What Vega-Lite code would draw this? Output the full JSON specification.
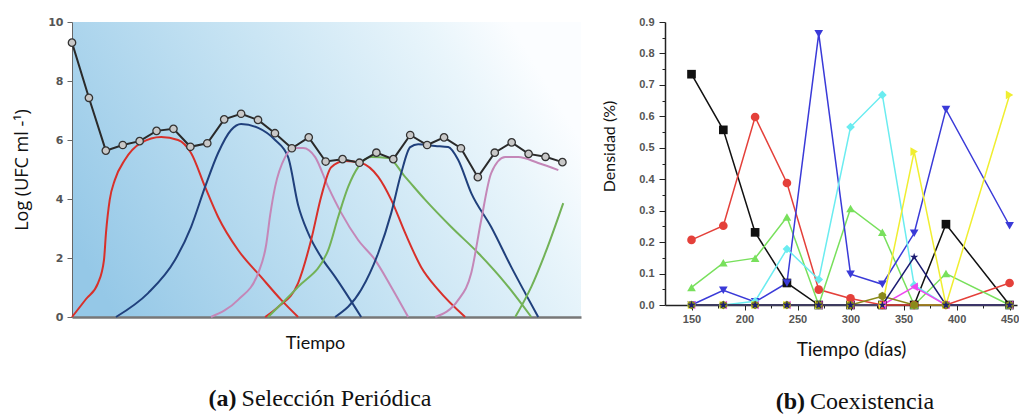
{
  "$schema": "https://vega.github.io/schema/vega-lite/v6.json",
  "padding": {"left": 13, "top": 16, "right": 0, "bottom": 0},
  "background": "white",
  "spacing": 20,
  "resolve": {"scale": {"color": "independent", "shape": "independent"}},
  "config": {"view": {"stroke": null}, "axis": {"grid": false}},
  "datasets": {
    "a_curves": [
      {"s": "r1", "t": 0, "v": 0}, {"s": "r1", "t": 0.83, "v": 0.61}, {"s": "r1", "t": 1.54, "v": 1.15}, {"s": "r1", "t": 1.89, "v": 1.93}, {"s": "r1", "t": 2.01, "v": 2.85}, {"s": "r1", "t": 2.23, "v": 3.97}, {"s": "r1", "t": 2.53, "v": 4.64}, {"s": "r1", "t": 3.12, "v": 5.32}, {"s": "r1", "t": 4.08, "v": 5.9}, {"s": "r1", "t": 5.27, "v": 6.1}, {"s": "r1", "t": 6.27, "v": 6.0}, {"s": "r1", "t": 7.04, "v": 5.56}, {"s": "r1", "t": 7.87, "v": 4.41}, {"s": "r1", "t": 8.64, "v": 3.39}, {"s": "r1", "t": 9.82, "v": 2.27}, {"s": "r1", "t": 11.18, "v": 1.36}, {"s": "r1", "t": 12.37, "v": 0.58}, {"s": "r1", "t": 13.37, "v": 0},
      {"s": "b1", "t": 2.6, "v": 0}, {"s": "b1", "t": 4.5, "v": 0.81}, {"s": "b1", "t": 6.09, "v": 1.93}, {"s": "b1", "t": 7.04, "v": 3.05}, {"s": "b1", "t": 7.87, "v": 4.41}, {"s": "b1", "t": 8.64, "v": 5.56}, {"s": "b1", "t": 9.41, "v": 6.34}, {"s": "b1", "t": 10.0, "v": 6.54}, {"s": "b1", "t": 11.01, "v": 6.41}, {"s": "b1", "t": 12.01, "v": 6.0}, {"s": "b1", "t": 12.78, "v": 5.42}, {"s": "b1", "t": 13.37, "v": 3.8}, {"s": "b1", "t": 13.96, "v": 2.85}, {"s": "b1", "t": 14.73, "v": 2.03}, {"s": "b1", "t": 15.56, "v": 1.36}, {"s": "b1", "t": 17.1, "v": 0},
      {"s": "p1", "t": 8.22, "v": 0}, {"s": "p1", "t": 9.82, "v": 0.58}, {"s": "p1", "t": 11.01, "v": 1.49}, {"s": "p1", "t": 11.48, "v": 2.44}, {"s": "p1", "t": 11.72, "v": 3.46}, {"s": "p1", "t": 12.01, "v": 4.41}, {"s": "p1", "t": 12.6, "v": 5.42}, {"s": "p1", "t": 13.14, "v": 5.73}, {"s": "p1", "t": 13.67, "v": 5.73}, {"s": "p1", "t": 14.38, "v": 5.42}, {"s": "p1", "t": 15.15, "v": 4.41}, {"s": "p1", "t": 15.92, "v": 3.53}, {"s": "p1", "t": 16.92, "v": 2.61}, {"s": "p1", "t": 17.93, "v": 1.93}, {"s": "p1", "t": 18.88, "v": 1.02}, {"s": "p1", "t": 19.88, "v": 0},
      {"s": "r2", "t": 11.42, "v": 0}, {"s": "r2", "t": 12.19, "v": 0.34}, {"s": "r2", "t": 13.37, "v": 1.15}, {"s": "r2", "t": 14.14, "v": 2.61}, {"s": "r2", "t": 14.73, "v": 4.07}, {"s": "r2", "t": 15.33, "v": 5.08}, {"s": "r2", "t": 16.15, "v": 5.29}, {"s": "r2", "t": 17.1, "v": 5.22}, {"s": "r2", "t": 18.11, "v": 4.75}, {"s": "r2", "t": 18.88, "v": 3.97}, {"s": "r2", "t": 19.7, "v": 2.85}, {"s": "r2", "t": 20.65, "v": 1.69}, {"s": "r2", "t": 21.66, "v": 0.92}, {"s": "r2", "t": 23.25, "v": 0},
      {"s": "g1", "t": 11.6, "v": 0}, {"s": "g1", "t": 12.19, "v": 0.34}, {"s": "g1", "t": 13.37, "v": 1.02}, {"s": "g1", "t": 15.15, "v": 2.27}, {"s": "g1", "t": 15.74, "v": 3.39}, {"s": "g1", "t": 16.33, "v": 4.41}, {"s": "g1", "t": 16.92, "v": 5.08}, {"s": "g1", "t": 17.69, "v": 5.42}, {"s": "g1", "t": 18.7, "v": 5.39}, {"s": "g1", "t": 19.7, "v": 4.75}, {"s": "g1", "t": 20.89, "v": 3.97}, {"s": "g1", "t": 22.43, "v": 3.05}, {"s": "g1", "t": 24.02, "v": 2.17}, {"s": "g1", "t": 25.62, "v": 1.15}, {"s": "g1", "t": 27.16, "v": 0},
      {"s": "b2", "t": 15.56, "v": 0}, {"s": "b2", "t": 17.1, "v": 0.92}, {"s": "b2", "t": 18.11, "v": 2.17}, {"s": "b2", "t": 18.88, "v": 3.53}, {"s": "b2", "t": 19.47, "v": 4.88}, {"s": "b2", "t": 20.0, "v": 5.76}, {"s": "b2", "t": 20.47, "v": 5.86}, {"s": "b2", "t": 21.48, "v": 5.8}, {"s": "b2", "t": 22.25, "v": 5.76}, {"s": "b2", "t": 22.84, "v": 5.32}, {"s": "b2", "t": 23.61, "v": 4.2}, {"s": "b2", "t": 24.79, "v": 3.05}, {"s": "b2", "t": 25.98, "v": 1.69}, {"s": "b2", "t": 26.8, "v": 0.81}, {"s": "b2", "t": 27.57, "v": 0},
      {"s": "p2", "t": 21.48, "v": 0}, {"s": "p2", "t": 22.84, "v": 0.58}, {"s": "p2", "t": 23.61, "v": 1.49}, {"s": "p2", "t": 24.2, "v": 3.29}, {"s": "p2", "t": 24.79, "v": 4.88}, {"s": "p2", "t": 25.62, "v": 5.42}, {"s": "p2", "t": 26.39, "v": 5.42}, {"s": "p2", "t": 27.57, "v": 5.22}, {"s": "p2", "t": 28.76, "v": 4.98},
      {"s": "g2", "t": 26.21, "v": 0}, {"s": "g2", "t": 27.16, "v": 1.02}, {"s": "g2", "t": 27.99, "v": 2.17}, {"s": "g2", "t": 29.05, "v": 3.86}
    ],
    "a_total": [
      {"t": 0, "v": 9.3}, {"t": 1, "v": 7.43}, {"t": 2, "v": 5.64}, {"t": 3, "v": 5.83}, {"t": 4, "v": 5.96}, {"t": 5, "v": 6.31}, {"t": 6, "v": 6.38}, {"t": 7, "v": 5.77}, {"t": 8, "v": 5.89}, {"t": 9, "v": 6.7},
      {"t": 10, "v": 6.89}, {"t": 11, "v": 6.68}, {"t": 12, "v": 6.23}, {"t": 13, "v": 5.72}, {"t": 14, "v": 6.09}, {"t": 15, "v": 5.27}, {"t": 16, "v": 5.35}, {"t": 17, "v": 5.23}, {"t": 18, "v": 5.57}, {"t": 19, "v": 5.35},
      {"t": 20, "v": 6.17}, {"t": 21, "v": 5.83}, {"t": 22, "v": 6.09}, {"t": 23, "v": 5.72}, {"t": 24, "v": 4.74}, {"t": 25, "v": 5.57}, {"t": 26, "v": 5.92}, {"t": 27, "v": 5.53}, {"t": 28, "v": 5.43}, {"t": 29, "v": 5.25}
    ],
    "b": [
      {"s": "1", "x": 150, "v": 0.734}, {"s": "1", "x": 180, "v": 0.557}, {"s": "1", "x": 210, "v": 0.231}, {"s": "1", "x": 240, "v": 0.07}, {"s": "1", "x": 270, "v": 0}, {"s": "1", "x": 300, "v": 0}, {"s": "1", "x": 330, "v": 0}, {"s": "1", "x": 360, "v": 0}, {"s": "1", "x": 390, "v": 0.257}, {"s": "1", "x": 450, "v": 0},
      {"s": "2", "x": 150, "v": 0.207}, {"s": "2", "x": 180, "v": 0.252}, {"s": "2", "x": 210, "v": 0.598}, {"s": "2", "x": 240, "v": 0.388}, {"s": "2", "x": 270, "v": 0.049}, {"s": "2", "x": 300, "v": 0.021}, {"s": "2", "x": 330, "v": 0}, {"s": "2", "x": 360, "v": 0}, {"s": "2", "x": 390, "v": 0}, {"s": "2", "x": 450, "v": 0.07},
      {"s": "3", "x": 150, "v": 0.056}, {"s": "3", "x": 180, "v": 0.134}, {"s": "3", "x": 210, "v": 0.149}, {"s": "3", "x": 240, "v": 0.28}, {"s": "3", "x": 270, "v": 0}, {"s": "3", "x": 300, "v": 0.307}, {"s": "3", "x": 330, "v": 0.231}, {"s": "3", "x": 360, "v": 0}, {"s": "3", "x": 390, "v": 0.1}, {"s": "3", "x": 450, "v": 0},
      {"s": "4", "x": 150, "v": 0}, {"s": "4", "x": 180, "v": 0.047}, {"s": "4", "x": 210, "v": 0.01}, {"s": "4", "x": 240, "v": 0.07}, {"s": "4", "x": 270, "v": 0.863}, {"s": "4", "x": 300, "v": 0.098}, {"s": "4", "x": 330, "v": 0.066}, {"s": "4", "x": 360, "v": 0.228}, {"s": "4", "x": 390, "v": 0.622}, {"s": "4", "x": 450, "v": 0.252},
      {"s": "5", "x": 150, "v": 0}, {"s": "5", "x": 180, "v": 0}, {"s": "5", "x": 210, "v": 0.012}, {"s": "5", "x": 240, "v": 0.178}, {"s": "5", "x": 270, "v": 0.081}, {"s": "5", "x": 300, "v": 0.566}, {"s": "5", "x": 330, "v": 0.668}, {"s": "5", "x": 360, "v": 0.063}, {"s": "5", "x": 390, "v": 0}, {"s": "5", "x": 450, "v": 0},
      {"s": "6", "x": 150, "v": 0}, {"s": "6", "x": 180, "v": 0}, {"s": "6", "x": 210, "v": 0}, {"s": "6", "x": 240, "v": 0}, {"s": "6", "x": 270, "v": 0}, {"s": "6", "x": 300, "v": 0}, {"s": "6", "x": 330, "v": 0}, {"s": "6", "x": 360, "v": 0.058}, {"s": "6", "x": 390, "v": 0}, {"s": "6", "x": 450, "v": 0},
      {"s": "7", "x": 150, "v": 0}, {"s": "7", "x": 180, "v": 0}, {"s": "7", "x": 210, "v": 0}, {"s": "7", "x": 240, "v": 0}, {"s": "7", "x": 270, "v": 0}, {"s": "7", "x": 300, "v": 0}, {"s": "7", "x": 330, "v": 0}, {"s": "7", "x": 360, "v": 0.488}, {"s": "7", "x": 390, "v": 0}, {"s": "7", "x": 450, "v": 0.668},
      {"s": "8", "x": 150, "v": 0}, {"s": "8", "x": 180, "v": 0}, {"s": "8", "x": 210, "v": 0}, {"s": "8", "x": 240, "v": 0}, {"s": "8", "x": 270, "v": 0}, {"s": "8", "x": 300, "v": 0}, {"s": "8", "x": 330, "v": 0.028}, {"s": "8", "x": 360, "v": 0}, {"s": "8", "x": 390, "v": 0}, {"s": "8", "x": 450, "v": 0},
      {"s": "9", "x": 150, "v": 0}, {"s": "9", "x": 180, "v": 0}, {"s": "9", "x": 210, "v": 0}, {"s": "9", "x": 240, "v": 0}, {"s": "9", "x": 270, "v": 0}, {"s": "9", "x": 300, "v": 0}, {"s": "9", "x": 330, "v": 0}, {"s": "9", "x": 360, "v": 0.152}, {"s": "9", "x": 390, "v": 0}, {"s": "9", "x": 450, "v": 0}
    ]
  },
  "hconcat": [
    {
      "width": 509,
      "height": 295,
      "view": {
        "stroke": null,
        "fill": {"gradient": "linear", "x1": 0, "y1": 0.75, "x2": 1, "y2": 0.4,
          "stops": [{"offset": 0, "color": "#95c8e7"}, {"offset": 0.5, "color": "#c6e3f3"}, {"offset": 0.85, "color": "#e9f5fb"}, {"offset": 1, "color": "#fbfdff"}]}
      },
      "layer": [
        {
          "data": {"name": "a_curves"},
          "mark": {"type": "line", "interpolate": "monotone", "strokeWidth": 2},
          "encoding": {
            "x": {"field": "t", "type": "quantitative", "scale": {"domain": [0, 30.1], "nice": false, "zero": false},
              "axis": {"labels": false, "ticks": false, "title": "Tiempo", "titleX": 243, "domainColor": "#777", "domainWidth": 2.5, "titleFont": "Lato", "titleFontSize": 18, "titleFontWeight": "normal", "titleColor": "#111", "titlePadding": 17}},
            "y": {"field": "v", "type": "quantitative", "scale": {"domain": [0, 10], "nice": false},
              "axis": {"values": [0, 2, 4, 6, 8, 10], "title": "Log (UFC ml -¹)", "labelFont": "DejaVu Sans", "labelFontSize": 11, "labelFontWeight": "bold", "labelColor": "#555", "tickColor": "#666", "tickSize": 5, "labelPadding": 4, "domainColor": "#666", "titleFont": "Open Sans", "titleFontSize": 18, "titleFontWeight": "normal", "titleColor": "#111", "titlePadding": 16}},
            "color": {"field": "s", "type": "nominal", "legend": null,
              "scale": {"domain": ["r1", "b1", "p1", "r2", "g1", "b2", "p2", "g2"], "range": ["#d8302a", "#20407c", "#c487b8", "#d8302a", "#72b257", "#20407c", "#c487b8", "#72b257"]}}
          }
        },
        {
          "data": {"name": "a_total"},
          "mark": {"type": "line", "color": "#2a2a2a", "strokeWidth": 2},
          "encoding": {
            "x": {"field": "t", "type": "quantitative"},
            "y": {"field": "v", "type": "quantitative"}
          }
        },
        {
          "data": {"name": "a_total"},
          "mark": {"type": "point", "filled": true, "fill": "#c8c8c8", "stroke": "#333", "strokeWidth": 1.3, "size": 55, "opacity": 1},
          "encoding": {
            "x": {"field": "t", "type": "quantitative"},
            "y": {"field": "v", "type": "quantitative"}
          }
        },
        {
          "data": {"values": [{}]},
          "mark": {"type": "text", "text": "(a)", "font": "Liberation Serif", "fontSize": 24, "fontWeight": "bold", "align": "right", "baseline": "middle", "dx": -2, "color": "#111"},
          "encoding": {
            "x": {"datum": 9.85, "type": "quantitative"},
            "y": {"datum": -2.78, "type": "quantitative"}
          }
        },
        {
          "data": {"values": [{}]},
          "mark": {"type": "text", "text": "Selección Periódica", "font": "Liberation Serif", "fontSize": 24, "align": "left", "baseline": "middle", "dx": 3, "color": "#111"},
          "encoding": {
            "x": {"datum": 9.85, "type": "quantitative"},
            "y": {"datum": -2.78, "type": "quantitative"}
          }
        }
      ]
    },
    {
      "width": 352,
      "height": 283,
      "view": {"stroke": null, "fill": null},
      "data": {"name": "b"},
      "resolve": {"axis": {"x": "independent", "y": "independent"}},
      "layer": [
        {
          "mark": {"type": "line", "strokeWidth": 1.5},
          "encoding": {
            "x": {"field": "x", "type": "quantitative", "scale": {"domain": [125, 457], "nice": false, "zero": false},
              "axis": {"values": [150, 200, 250, 300, 350, 400, 450], "title": "Tiempo (días)", "titleX": 186, "labelFont": "Liberation Sans", "labelFontSize": 11, "labelFontWeight": "bold", "labelColor": "#555", "tickColor": "#222", "tickSize": 5, "labelPadding": 3, "domainColor": "#222", "domainWidth": 1.5, "titleFont": "Lato", "titleFontSize": 19, "titleFontWeight": "normal", "titleColor": "#111", "titlePadding": 16}},
            "y": {"field": "v", "type": "quantitative", "scale": {"domain": [0, 0.9], "nice": false},
              "axis": {"values": [0, 0.1, 0.2, 0.3, 0.4, 0.5, 0.6, 0.7, 0.8, 0.9], "format": ".1f", "title": "Densidad (%)", "titleY": 124, "labelFont": "Liberation Sans", "labelFontSize": 11, "labelFontWeight": "bold", "labelColor": "#555", "tickColor": "#222", "tickSize": 6, "labelPadding": 5, "domainColor": "#222", "domainWidth": 1.5, "titleFont": "Lato", "titleFontSize": 16, "titleFontWeight": "normal", "titleColor": "#111", "titlePadding": 21}},
            "color": {"field": "s", "type": "nominal", "legend": null,
              "scale": {"domain": ["1", "2", "3", "4", "5", "6", "7", "8", "9"], "range": ["#111111", "#e4403a", "#78e05c", "#3a3ad8", "#6aecf0", "#ee48ee", "#f0ee30", "#8a8a1a", "#1c1c72"]}}
          }
        },
        {
          "mark": {"type": "point", "filled": true, "size": 75, "opacity": 1},
          "encoding": {
            "x": {"field": "x", "type": "quantitative", "axis": null},
            "y": {"field": "v", "type": "quantitative", "axis": null},
            "color": {"field": "s", "type": "nominal", "legend": null},
            "shape": {"field": "s", "type": "nominal", "legend": null,
              "scale": {"domain": ["1", "2", "3", "4", "5", "6", "7", "8", "9"], "range": ["square", "circle", "triangle-up", "triangle-down", "diamond", "triangle-left", "triangle-right", "M0,-1L0.87,-0.5L0.87,0.5L0,1L-0.87,0.5L-0.87,-0.5Z", "M0,-1L0.22,-0.31L0.95,-0.31L0.36,0.12L0.59,0.81L0,0.38L-0.59,0.81L-0.36,0.12L-0.95,-0.31L-0.22,-0.31Z"]}}
          }
        },
        {
          "mark": {"type": "point", "opacity": 0},
          "encoding": {
            "x": {"field": "x", "type": "quantitative",
              "axis": {"orient": "bottom", "values": [175, 225, 275, 325, 375, 425], "labels": false, "domain": false, "title": null, "tickColor": "#222", "tickSize": 3}},
            "y": {"field": "v", "type": "quantitative",
              "axis": {"orient": "left", "values": [0.05, 0.15, 0.25, 0.35, 0.45, 0.55, 0.65, 0.75, 0.85], "labels": false, "domain": false, "title": null, "tickColor": "#222", "tickSize": 3}}
          }
        },
        {
          "data": {"values": [{}]},
          "mark": {"type": "text", "text": "(b)", "font": "Liberation Serif", "fontSize": 24, "fontWeight": "bold", "align": "right", "baseline": "middle", "dx": -2, "color": "#111"},
          "encoding": {
            "x": {"datum": 259, "type": "quantitative", "axis": null},
            "y": {"datum": -0.309, "type": "quantitative", "axis": null}
          }
        },
        {
          "data": {"values": [{}]},
          "mark": {"type": "text", "text": "Coexistencia", "font": "Liberation Serif", "fontSize": 24, "align": "left", "baseline": "middle", "dx": 3, "color": "#111"},
          "encoding": {
            "x": {"datum": 259, "type": "quantitative", "axis": null},
            "y": {"datum": -0.309, "type": "quantitative", "axis": null}
          }
        }
      ]
    }
  ]
}
